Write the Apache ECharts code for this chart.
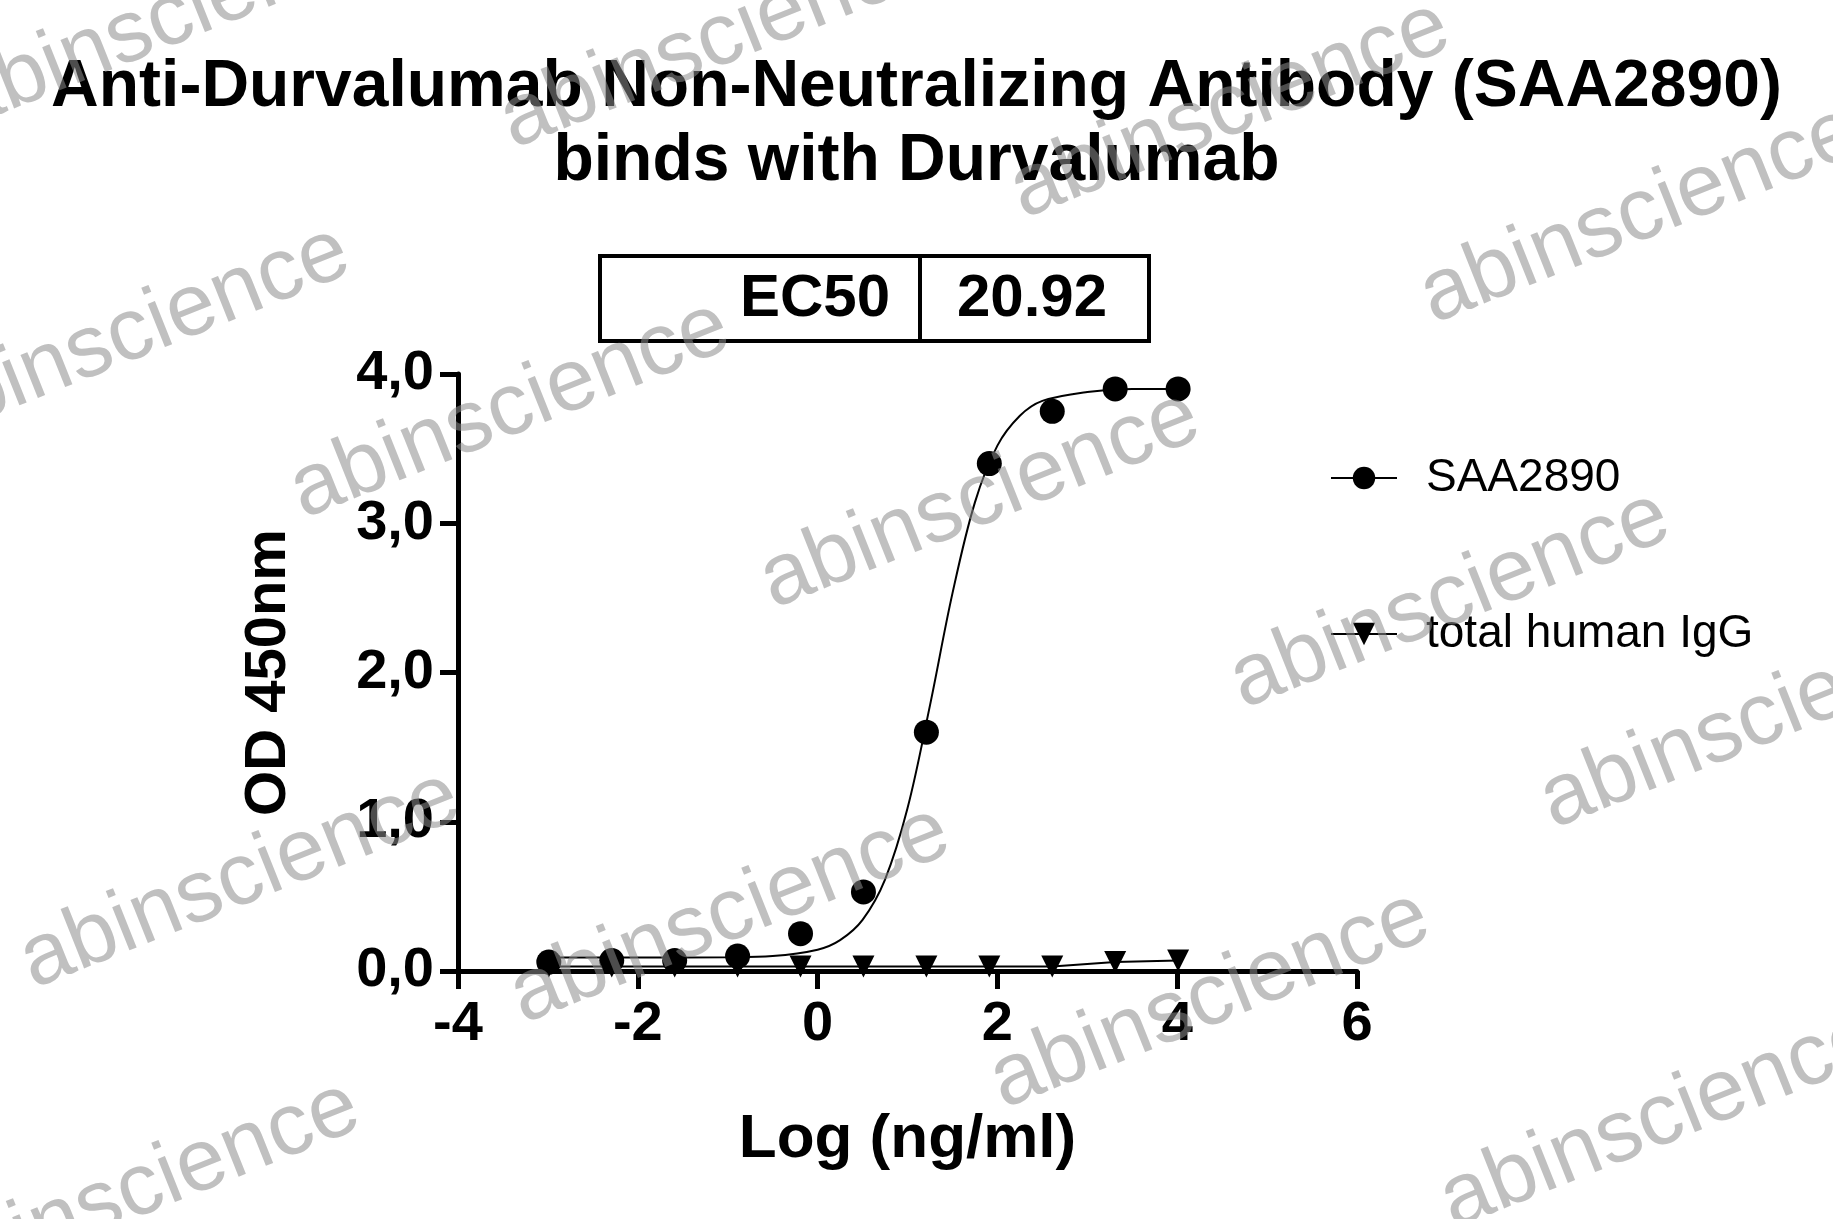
<!DOCTYPE html>
<html><head><meta charset="utf-8">
<script src="https://cdn.jsdelivr.net/npm/echarts@6/dist/echarts.min.js"></script>
<style>html,body{margin:0;padding:0;background:#fff}#c{width:1833px;height:1219px}</style>
</head><body><div id="c"></div>
<script>
const logConc = [-2.99,-2.29,-1.59,-0.89,-0.19,0.51,1.21,1.91,2.61,3.31,4.01];
const saa2890 = [0.06,0.07,0.07,0.10,0.25,0.53,1.60,3.40,3.75,3.90,3.90];
const igg = [0.03,0.03,0.03,0.03,0.03,0.03,0.03,0.03,0.03,0.06,0.07];
const curveX = [-3,-2,-1,-0.5,0,0.25,0.5,0.75,1,1.25,1.5,1.75,2,2.25,2.5,3,3.5,4];
const curveY = [0.09,0.09,0.092,0.10,0.143,0.207,0.343,0.613,1.09,1.78,2.53,3.14,3.52,3.72,3.82,3.88,3.90,3.90];
const xTicks = [-4,-2,0,2,4,6];
const yTicks = ['0,0','1,0','2,0','3,0','4,0'];
const ec50 = '20.92';
const wm = [[170,20],[720,40],[1230,110],[1640,215],[130,335],[510,410],[980,500],[1450,600],[1760,720],[240,880],[730,915],[1210,1000],[1660,1120],[140,1190]];

const F = 'Liberation Sans, Arial, sans-serif';
const chart = echarts.init(document.getElementById('c'));
const graphic = [
  {type:'rect',shape:{x:600,y:256,width:549,height:85},style:{fill:'#fff',stroke:'#000',lineWidth:4},z:10},
  {type:'line',shape:{x1:920,y1:256,x2:920,y2:341},style:{stroke:'#000',lineWidth:4},z:10},
  {type:'text',x:890,y:299,style:{text:'EC50',font:'bold 60px '+F,fill:'#000',align:'right',verticalAlign:'middle'},z:11},
  {type:'text',x:1032,y:299,style:{text:ec50,font:'bold 60px '+F,fill:'#000',align:'center',verticalAlign:'middle'},z:11}
];
wm.forEach(p=>graphic.push({type:'text',x:p[0],y:p[1],rotation:0.38,style:{text:'abinscience',font:'88px '+F,fill:'rgba(140,140,140,0.55)',align:'center',verticalAlign:'middle'},z:100}));

chart.setOption({
  animation:false,
  title:{text:'Anti-Durvalumab Non-Neutralizing Antibody (SAA2890)\nbinds with Durvalumab',left:'center',top:46,
    textStyle:{fontFamily:F,fontWeight:'bold',fontSize:66,lineHeight:74,color:'#000'}},
  grid:{left:458,right:476,top:374,bottom:248},
  legend:{orient:'vertical',left:1325,top:450,itemGap:110,itemWidth:66,itemHeight:28,
    textStyle:{fontFamily:F,fontSize:46,color:'#000',padding:[0,0,0,24]},
    data:[{name:'SAA2890',lineStyle:{width:2,color:'#000',opacity:1}},{name:'total human IgG'}]},
  xAxis:{type:'value',min:-4,max:6,interval:2,name:'Log (ng/ml)',nameLocation:'middle',nameGap:138,
    nameTextStyle:{fontFamily:F,fontWeight:'bold',fontSize:62,color:'#000'},
    axisLine:{onZero:false,lineStyle:{color:'#000',width:5}},axisTick:{length:18,lineStyle:{width:5,color:'#000'}},
    splitLine:{show:false},
    axisLabel:{fontFamily:F,fontWeight:'bold',fontSize:56,color:'#000',margin:26,formatter:v=>xTicks.includes(v)?String(v):''}},
  yAxis:{type:'value',min:0,max:4,interval:1,name:'OD 450nm',nameLocation:'middle',nameGap:160,
    nameTextStyle:{fontFamily:F,fontWeight:'bold',fontSize:58,color:'#000'},
    axisLine:{show:true,onZero:false,lineStyle:{color:'#000',width:5}},axisTick:{show:true,length:18,lineStyle:{width:5,color:'#000'}},
    splitLine:{show:false},
    axisLabel:{fontFamily:F,fontWeight:'bold',fontSize:56,color:'#000',margin:24,formatter:v=>yTicks[Math.round(v)]}},
  graphic:graphic,
  series:[
    {name:'fit',type:'line',smooth:0.35,symbol:'none',data:curveX.map((x,i)=>[x,curveY[i]]),lineStyle:{color:'#000',width:2},z:3},
    {name:'SAA2890',type:'line',data:logConc.map((x,i)=>[x,saa2890[i]]),symbol:'circle',symbolSize:25,
      itemStyle:{color:'#000'},lineStyle:{width:0,opacity:0},z:4},
    {name:'total human IgG',type:'line',data:logConc.map((x,i)=>[x,igg[i]]),symbol:'triangle',symbolRotate:180,symbolSize:22,
      itemStyle:{color:'#000'},lineStyle:{width:2,color:'#000'},z:4}
  ]
});
</script></body></html>
